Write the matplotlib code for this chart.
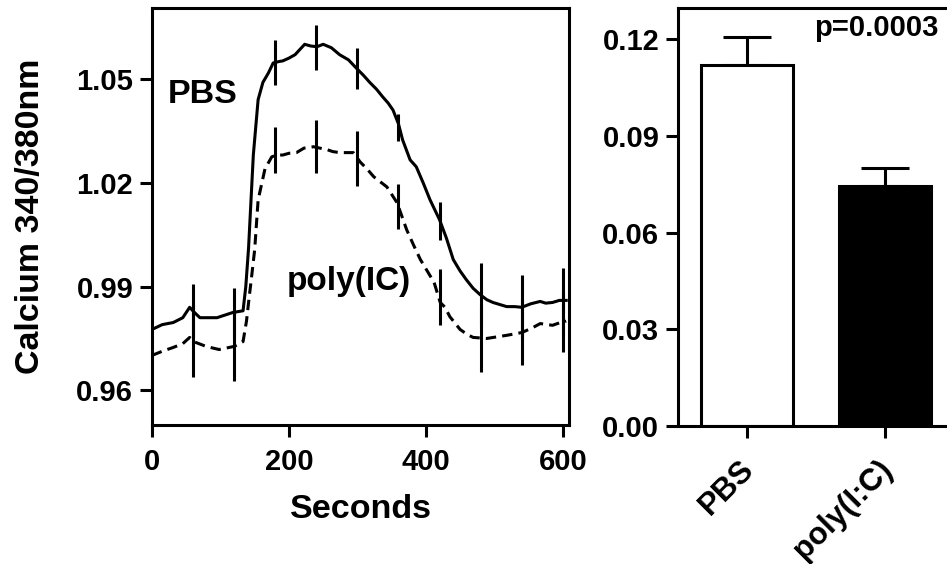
import numpy as np
import matplotlib
matplotlib.use("Agg")
import matplotlib.pyplot as plt
import matplotlib.transforms as mtransforms

plt.rcParams['font.family'] = ['Liberation Sans', 'DejaVu Sans']
plt.rcParams['font.weight'] = 'bold'

# trace data (seconds, ratio)
pbs_t = [0, 15, 31, 45, 55, 62, 70, 95, 118, 133, 137, 141, 148, 155, 162, 170, 177,
         185, 191, 200, 209, 216, 223, 232, 241, 250, 262, 274, 287, 299, 309, 318,
         328, 337, 345, 352, 360, 366, 377, 386, 396, 406, 420, 430, 440, 450, 459,
         469, 479, 489, 498, 508, 518, 530, 540, 553, 567, 575, 585, 595, 605]
pbs_y = [0.9776, 0.9790, 0.9796, 0.9810, 0.9840, 0.9825, 0.9810, 0.9810, 0.9825, 0.9830,
         0.9900, 1.0010, 1.0280, 1.0440, 1.0490, 1.0517, 1.0546, 1.0550, 1.0552, 1.0560,
         1.0570, 1.0585, 1.0600, 1.0595, 1.0593, 1.0600, 1.0590, 1.0570, 1.0555, 1.0530,
         1.0510, 1.0490, 1.0470, 1.0448, 1.0430, 1.0410, 1.0370, 1.0324, 1.0266, 1.0246,
         1.0200, 1.0151, 1.0093, 1.0040, 0.9978, 0.9945, 0.9920, 0.9895, 0.9877, 0.9862,
         0.9854, 0.9848, 0.9842, 0.9842, 0.9840, 0.9850, 0.9857, 0.9852, 0.9854, 0.9860,
         0.9860]

pic_t = [0, 15, 31, 45, 55, 62, 79, 98, 120, 133, 138, 142, 145, 150, 155, 165, 175,
         183, 191, 200, 211, 222, 236, 245, 255, 264, 274, 284, 294, 304, 314, 324,
         343, 358, 372, 382, 392, 402, 412, 421, 428, 435, 450, 460, 469, 489, 505,
         518, 540, 555, 567, 585, 595, 605]
pic_y = [0.9701, 0.9713, 0.9724, 0.9735, 0.9753, 0.9740, 0.9727, 0.9718, 0.9727, 0.9741,
         0.9800, 0.9870, 0.9920, 1.0007, 1.0150, 1.0240, 1.0275, 1.0280, 1.0280, 1.0285,
         1.0287, 1.0300, 1.0304, 1.0300, 1.0296, 1.0290, 1.0287, 1.0287, 1.0287, 1.0260,
         1.0240, 1.0217, 1.0188, 1.0142, 1.0064, 1.0020, 0.9978, 0.9945, 0.9912, 0.9854,
         0.9840, 0.9813, 0.9776, 0.9762, 0.9753, 0.9750, 0.9755, 0.9759, 0.9767, 0.9780,
         0.9793, 0.9788, 0.9795, 0.9800]

# error bars on the traces
err_t = [60, 120, 180, 240, 300, 360, 420, 480, 540, 600]
pbs_mean = [0.9830, 0.9825, 1.0546, 1.0590, 1.0530, 1.0360, 1.0090, 0.9877, 0.9840, 0.9857]
pbs_sem = [0.0076, 0.0072, 0.0065, 0.0065, 0.0060, 0.0040, 0.0055, 0.0092, 0.0094, 0.0098]
pic_mean = [0.9745, 0.9727, 1.0295, 1.0305, 1.0270, 1.0130, 0.9870, 0.9750, 0.9767, 0.9800]
pic_sem = [0.0105, 0.0100, 0.0067, 0.0077, 0.0080, 0.0065, 0.0080, 0.0098, 0.0095, 0.0088]

# bar panel
groups = ['PBS', 'poly(I:C)']
bar_vals = [0.112, 0.0744]
bar_err = [0.0085, 0.0056]
bar_colors = ['white', 'black']

LW = 2.2
fig = plt.figure(figsize=(9.47, 5.64), dpi=100)

ax = fig.add_axes([0.1605, 0.2465, 0.4403, 0.7394])
ax.plot(pbs_t, pbs_y, color='black', lw=LW)
ax.plot(pic_t, pic_y, color='black', lw=LW, linestyle=(0, (3.4, 2.0)))
ax.errorbar(err_t, pbs_mean, yerr=pbs_sem, fmt='none', ecolor='black', elinewidth=LW, capsize=0)
ax.errorbar(err_t, pic_mean, yerr=pic_sem, fmt='none', ecolor='black', elinewidth=LW, capsize=0)
ax.set_xlim(0, 609)
ax.set_ylim(0.95, 1.0705)
ax.set_xticks([0, 200, 400, 600])
ax.set_yticks([0.96, 0.99, 1.02, 1.05])
ax.set_yticklabels(['0.96', '0.99', '1.02', '1.05'])
ax.set_xlabel('Seconds', fontsize=24.5, fontweight='bold', labelpad=13)
ax.set_ylabel('Calcium 340/380nm', fontsize=24.5, fontweight='bold', labelpad=22)
ax.text(23, 1.0454, 'PBS', fontsize=24.5, fontweight='bold', va='center', ha='left')
ax.text(197, 0.9915, 'poly(IC)', fontsize=24, fontweight='bold', va='center', ha='left')

ax2 = fig.add_axes([0.716, 0.2447, 0.2914, 0.741])
ax2.bar([0, 1], bar_vals, width=0.67, color=bar_colors, edgecolor='black', linewidth=LW, zorder=2)
ax2.errorbar([0, 1], bar_vals, yerr=[[0, 0], bar_err], fmt='none', ecolor='black',
             elinewidth=LW, capsize=17, capthick=LW, zorder=1)
ax2.set_xlim(-0.5, 1.5)
ax2.set_ylim(0, 0.1296)
ax2.set_yticks([0.0, 0.03, 0.06, 0.09, 0.12])
ax2.set_yticklabels(['0.00', '0.03', '0.06', '0.09', '0.12'])
ax2.set_xticks([0, 1])
ax2.set_xticklabels(groups, rotation=45, ha='right', rotation_mode='anchor')
ax2.text(0.935, 0.1234, 'p=0.0003', fontsize=21, fontweight='bold', ha='center', va='center')

for a in (ax, ax2):
    for s in a.spines.values():
        s.set_linewidth(LW)
    a.tick_params(direction='out', length=8.5, width=LW, labelsize=21, pad=5)
ax.tick_params(axis='x', pad=8)
ax2.tick_params(axis='x', pad=12, labelsize=22.5)

# nudge the slanted group labels a little to the left
shift = mtransforms.ScaledTranslation(-8 / 100, 0, fig.dpi_scale_trans)
for lab in ax2.get_xticklabels():
    lab.set_transform(lab.get_transform() + shift)

plt.savefig('out.png', dpi=100)
